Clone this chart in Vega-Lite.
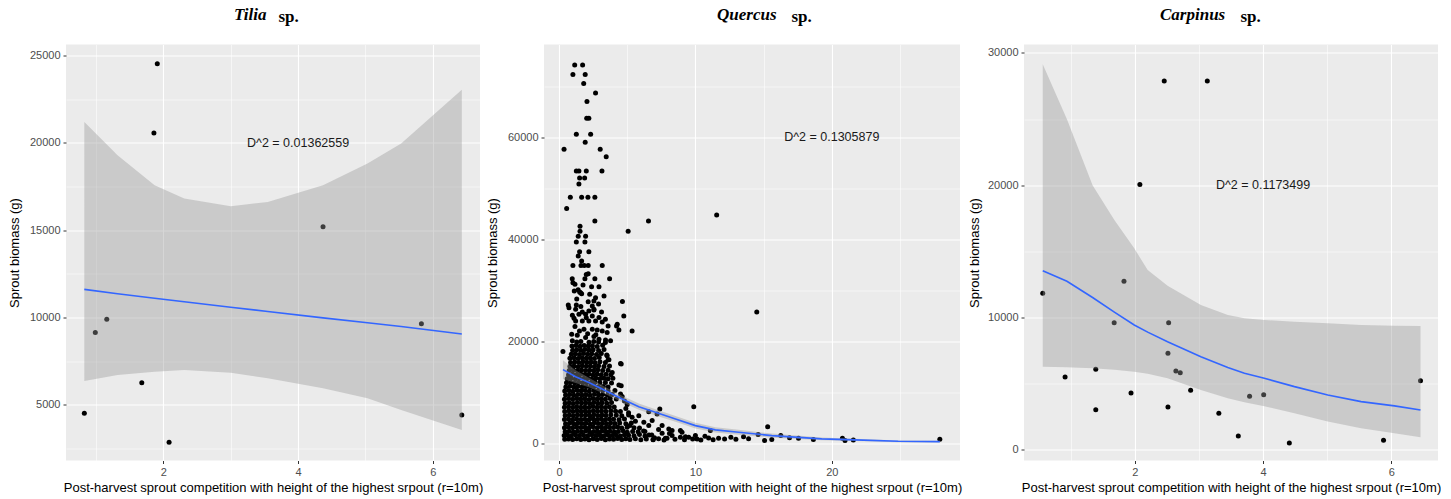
{
  "$schema": "https://vega.github.io/schema/vega-lite/v6.json",
  "padding": {"left": 8, "top": 5.5, "right": 0, "bottom": 0},
  "bounds": "flush",
  "spacing": 64,
  "config": {
    "view": {"fill": "#EBEBEB", "stroke": null},
    "axis": {"domain": false, "gridColor": "#FFFFFF", "tickColor": "#333333", "tickSize": 3, "labelColor": "#4D4D4D", "labelFont": "Liberation Sans", "labelFontSize": 11, "labelPadding": 3, "titleFont": "Liberation Sans", "titleFontSize": 13, "titleFontWeight": "normal", "titleColor": "#000000"},
    "title": {"font": "Liberation Serif", "fontSize": 17, "fontStyle": "italic", "fontWeight": "bold", "color": "#000000", "anchor": "start", "frame": "group", "offset": -16.6}
  },
  "datasets": {
    "tilia_pts": [
      {"x": 1.91, "y": 24540}, {"x": 1.86, "y": 20570}, {"x": 4.37, "y": 15190}, {"x": 0.827, "y": 4510},
      {"x": 0.99, "y": 9140}, {"x": 1.16, "y": 9890}, {"x": 1.68, "y": 6260}, {"x": 2.085, "y": 2850},
      {"x": 5.83, "y": 9640}, {"x": 6.43, "y": 4410}
    ],
    "tilia_fit": [
      {"x": 0.827, "fit": 11606, "lo": 6357, "hi": 21199},
      {"x": 1.32, "fit": 11360, "lo": 6700, "hi": 19293},
      {"x": 1.87, "fit": 11095, "lo": 6889, "hi": 17576},
      {"x": 2.31, "fit": 10895, "lo": 6986, "hi": 16814},
      {"x": 3.0, "fit": 10585, "lo": 6832, "hi": 16374},
      {"x": 3.55, "fit": 10340, "lo": 6511, "hi": 16620},
      {"x": 4.37, "fit": 9975, "lo": 5939, "hi": 17576},
      {"x": 5.03, "fit": 9690, "lo": 5366, "hi": 18817},
      {"x": 5.53, "fit": 9480, "lo": 4697, "hi": 19963},
      {"x": 6.43, "fit": 9047, "lo": 3552, "hi": 23054}
    ],
    "carpinus_pts": [
      {"x": 2.458, "y": 27890}, {"x": 3.13, "y": 27890}, {"x": 2.078, "y": 20050}, {"x": 0.5625, "y": 11835},
      {"x": 0.911, "y": 5514}, {"x": 1.39, "y": 6095}, {"x": 1.39, "y": 3044}, {"x": 1.677, "y": 9615},
      {"x": 1.83, "y": 12742}, {"x": 1.94, "y": 4305}, {"x": 2.516, "y": 7304}, {"x": 2.527, "y": 9615},
      {"x": 2.516, "y": 3248}, {"x": 2.64, "y": 5967}, {"x": 2.708, "y": 5838}, {"x": 2.87, "y": 4509},
      {"x": 3.31, "y": 2772}, {"x": 3.614, "y": 1057}, {"x": 3.79, "y": 4056}, {"x": 4.01, "y": 4177},
      {"x": 4.41, "y": 529}, {"x": 5.88, "y": 733}, {"x": 6.457, "y": 5234}
    ],
    "carpinus_fit": [
      {"x": 0.5625, "fit": 13543, "lo": 6294, "hi": 29155},
      {"x": 0.94, "fit": 12750, "lo": 6240, "hi": 25000},
      {"x": 1.34, "fit": 11520, "lo": 6170, "hi": 20000},
      {"x": 1.68, "fit": 10420, "lo": 6050, "hi": 17372},
      {"x": 1.99, "fit": 9441, "lo": 5916, "hi": 15234},
      {"x": 2.2, "fit": 8900, "lo": 5750, "hi": 13595},
      {"x": 2.51, "fit": 8180, "lo": 5413, "hi": 12400},
      {"x": 3.03, "fit": 7047, "lo": 4532, "hi": 10952},
      {"x": 3.45, "fit": 6220, "lo": 3900, "hi": 10197},
      {"x": 3.71, "fit": 5800, "lo": 3600, "hi": 9945},
      {"x": 4.02, "fit": 5413, "lo": 3300, "hi": 9820},
      {"x": 4.49, "fit": 4784, "lo": 2770, "hi": 9693},
      {"x": 5.01, "fit": 4154, "lo": 2140, "hi": 9570},
      {"x": 5.53, "fit": 3651, "lo": 1637, "hi": 9441},
      {"x": 6.05, "fit": 3330, "lo": 1259, "hi": 9390},
      {"x": 6.457, "fit": 3021, "lo": 957, "hi": 9366}
    ],
    "quercus_fit": [
      {"x": 0.29, "fit": 14450, "lo": 12600, "hi": 16300},
      {"x": 1.22, "fit": 13040, "lo": 11800, "hi": 14300},
      {"x": 2.19, "fit": 11926, "lo": 11000, "hi": 12850},
      {"x": 3.42, "fit": 10300, "lo": 9600, "hi": 11000},
      {"x": 4.63, "fit": 8680, "lo": 8050, "hi": 9300},
      {"x": 5.85, "fit": 7175, "lo": 6550, "hi": 7800},
      {"x": 7.07, "fit": 6060, "lo": 5450, "hi": 6650},
      {"x": 8.54, "fit": 4770, "lo": 4200, "hi": 5350},
      {"x": 10.0, "fit": 3460, "lo": 2900, "hi": 4000},
      {"x": 11.46, "fit": 2620, "lo": 2100, "hi": 3150},
      {"x": 13.17, "fit": 2150, "lo": 1650, "hi": 2650},
      {"x": 15.6, "fit": 1505, "lo": 1100, "hi": 1900},
      {"x": 19.26, "fit": 860, "lo": 600, "hi": 1120},
      {"x": 21.7, "fit": 665, "lo": 450, "hi": 880},
      {"x": 24.87, "fit": 391, "lo": 220, "hi": 560},
      {"x": 27.92, "fit": 330, "lo": 150, "hi": 500}
    ],
    "quercus_pts": [
      {"x":1.15,"y":74170},{"x":1.73,"y":74170},{"x":1.02,"y":72335},{"x":1.92,"y":72335},{"x":1.81,"y":70575},{"x":2.68,"y":68700},{"x":2.05,"y":67000},{"x":2.03,"y":63730},{"x":2.19,"y":63730},{"x":1.27,"y":60600},{"x":2.32,"y":60600},{"x":1.92,"y":59040},{"x":0.37,"y":57670},{"x":3.02,"y":57670},{"x":3.46,"y":56190},{"x":1.27,"y":53370},{"x":1.46,"y":53370},{"x":2.0,"y":53370},{"x":3.15,"y":53370},{"x":1.51,"y":52000},{"x":1.88,"y":52000},{"x":1.46,"y":50830},{"x":0.83,"y":48230},{"x":1.66,"y":48230},{"x":2.12,"y":48230},{"x":2.63,"y":48230},{"x":0.56,"y":46020},{"x":2.63,"y":43600},{"x":6.56,"y":43600},{"x":1.54,"y":42560},{"x":1.54,"y":41580},{"x":5.07,"y":41580},{"x":11.56,"y":44770},
      {"x":1.41,"y":40600},{"x":1.95,"y":40600},{"x":1.27,"y":39490},{"x":1.9,"y":39490},{"x":1.51,"y":37540},{"x":2.19,"y":37540},{"x":1.41,"y":36700},{"x":1.66,"y":35720},{"x":1.02,"y":34880},{"x":1.61,"y":34880},{"x":1.85,"y":34880},{"x":2.14,"y":34880},{"x":3.17,"y":34880},{"x":2.14,"y":33240},{"x":2.0,"y":33120},{"x":0.97,"y":32260},{"x":1.9,"y":32260},{"x":2.63,"y":32260},{"x":3.71,"y":32260},{"x":1.02,"y":31480},{"x":1.17,"y":31160},{"x":1.76,"y":31030},{"x":2.39,"y":30700},{"x":2.93,"y":30700},{"x":1.12,"y":29850},{"x":1.51,"y":29660},{"x":1.66,"y":29330},{"x":2.25,"y":29210},{"x":2.68,"y":28540},{"x":2.56,"y":27900},{"x":2.14,"y":27760},{"x":4.65,"y":27800},{"x":0.68,"y":27120},{"x":1.27,"y":27120},{"x":2.44,"y":26920},{"x":2.56,"y":26270},{"x":1.58,"y":29500},{"x":1.4,"y":30100},{"x":1.3,"y":28300},{"x":2.9,"y":27300},{"x":3.3,"y":28900},
      {"x":0.73,"y":26590},{"x":1.22,"y":26270},{"x":1.71,"y":25750},{"x":2.19,"y":25940},{"x":2.56,"y":26140},{"x":3.12,"y":25750},{"x":0.98,"y":25100},{"x":1.46,"y":25290},{"x":1.95,"y":25290},{"x":2.44,"y":24960},{"x":2.93,"y":24640},{"x":1.22,"y":23990},{"x":1.71,"y":23990},{"x":2.19,"y":23990},{"x":2.68,"y":23990},{"x":3.17,"y":23790},{"x":4.27,"y":23340},{"x":4.75,"y":24960},{"x":4.39,"y":22230},{"x":5.36,"y":22030},{"x":1.17,"y":22880},{"x":1.83,"y":22360},{"x":2.44,"y":22360},{"x":2.8,"y":22230},{"x":3.17,"y":22030},{"x":3.53,"y":21700},{"x":0.93,"y":21380},{"x":1.34,"y":21190},{"x":1.95,"y":20730},{"x":2.56,"y":20920},{"x":2.93,"y":20410},{"x":3.41,"y":20270},{"x":3.78,"y":20080},{"x":0.98,"y":20080},{"x":4.22,"y":23010},{"x":1.5,"y":22000},{"x":2.1,"y":21500},{"x":2.7,"y":21300},{"x":1.1,"y":24500},{"x":3.4,"y":24300},{"x":2.0,"y":24600},{"x":1.6,"y":26800},{"x":3.6,"y":23000},
      {"x":0.6,"y":12650},{"x":0.9,"y":12760},{"x":1.2,"y":12620},{"x":1.5,"y":12780},{"x":1.8,"y":12680},{"x":2.1,"y":12730},{"x":2.4,"y":12600},{"x":2.7,"y":12800},{"x":3.0,"y":12660},{"x":3.3,"y":12740},{"x":3.6,"y":12630},{"x":3.95,"y":12770},
      {"x":0.7,"y":13450},{"x":1.0,"y":13560},{"x":1.3,"y":13420},{"x":1.6,"y":13580},{"x":1.9,"y":13480},{"x":2.2,"y":13530},{"x":2.5,"y":13400},{"x":2.8,"y":13600},{"x":3.1,"y":13460},{"x":3.45,"y":13540},{"x":3.8,"y":13430},
      {"x":0.75,"y":14250},{"x":1.05,"y":14360},{"x":1.35,"y":14220},{"x":1.65,"y":14380},{"x":1.95,"y":14280},{"x":2.25,"y":14330},{"x":2.55,"y":14200},{"x":2.85,"y":14400},{"x":3.2,"y":14260},{"x":3.6,"y":14340},
      {"x":0.8,"y":15050},{"x":1.1,"y":15160},{"x":1.4,"y":15020},{"x":1.7,"y":15180},{"x":2.0,"y":15080},{"x":2.3,"y":15130},{"x":2.6,"y":15000},{"x":2.9,"y":15200},{"x":3.3,"y":15060},{"x":3.7,"y":15140},
      {"x":0.85,"y":15850},{"x":1.15,"y":15960},{"x":1.45,"y":15820},{"x":1.75,"y":15980},{"x":2.05,"y":15880},{"x":2.35,"y":15930},{"x":2.65,"y":15800},{"x":3.0,"y":16000},{"x":3.4,"y":15860},
      {"x":0.8,"y":16650},{"x":1.1,"y":16760},{"x":1.4,"y":16620},{"x":1.7,"y":16780},{"x":2.0,"y":16680},{"x":2.3,"y":16730},{"x":2.6,"y":16600},{"x":2.95,"y":16800},{"x":3.6,"y":16400},
      {"x":0.9,"y":17450},{"x":1.2,"y":17560},{"x":1.5,"y":17420},{"x":1.8,"y":17580},{"x":2.1,"y":17480},{"x":2.4,"y":17530},{"x":2.75,"y":17400},{"x":3.1,"y":17600},{"x":3.5,"y":17300},
      {"x":1.0,"y":18250},{"x":1.3,"y":18360},{"x":1.6,"y":18220},{"x":1.9,"y":18380},{"x":2.2,"y":18280},{"x":2.5,"y":18330},{"x":2.9,"y":18200},{"x":3.3,"y":18400},
      {"x":0.95,"y":19050},{"x":1.25,"y":19160},{"x":1.55,"y":19020},{"x":1.85,"y":19180},{"x":2.15,"y":19080},{"x":2.45,"y":19130},{"x":2.8,"y":19000},{"x":3.2,"y":19200},
      {"x":1.3,"y":19850},{"x":1.6,"y":19960},{"x":2.2,"y":19820},{"x":2.55,"y":19980},{"x":2.9,"y":19880},{"x":3.4,"y":19750},
      {"x":0.42,"y":780},{"x":0.7,"y":850},{"x":1.0,"y":720},{"x":1.3,"y":900},{"x":1.6,"y":760},{"x":1.9,"y":830},{"x":2.2,"y":700},{"x":2.5,"y":880},{"x":2.8,"y":750},{"x":3.1,"y":920},{"x":3.4,"y":700},{"x":3.7,"y":860},{"x":4.0,"y":780},{"x":4.3,"y":950},{"x":4.6,"y":720},{"x":4.9,"y":880},{"x":5.2,"y":760},{"x":5.6,"y":900},{"x":6.0,"y":700},{"x":6.4,"y":850},{"x":6.9,"y":760},{"x":7.3,"y":880},
      {"x":0.38,"y":1500},{"x":0.6,"y":1620},{"x":0.9,"y":1480},{"x":1.2,"y":1650},{"x":1.5,"y":1530},{"x":1.8,"y":1580},{"x":2.1,"y":1450},{"x":2.4,"y":1680},{"x":2.7,"y":1520},{"x":3.0,"y":1600},{"x":3.3,"y":1470},{"x":3.6,"y":1640},{"x":3.9,"y":1510},{"x":4.2,"y":1590},{"x":4.5,"y":1440},{"x":4.8,"y":1660},{"x":5.1,"y":1550},{"x":5.5,"y":1480},{"x":5.9,"y":1700},{"x":6.3,"y":1420},{"x":6.8,"y":1600},
      {"x":0.45,"y":2250},{"x":0.75,"y":2380},{"x":1.05,"y":2200},{"x":1.35,"y":2350},{"x":1.65,"y":2280},{"x":1.95,"y":2400},{"x":2.25,"y":2220},{"x":2.55,"y":2330},{"x":2.85,"y":2260},{"x":3.15,"y":2420},{"x":3.45,"y":2240},{"x":3.75,"y":2360},{"x":4.05,"y":2200},{"x":4.35,"y":2310},{"x":4.7,"y":2450},{"x":5.0,"y":2180},{"x":5.4,"y":2330},{"x":5.8,"y":2250},{"x":6.2,"y":2400},
      {"x":0.4,"y":3050},{"x":0.7,"y":3150},{"x":1.0,"y":3020},{"x":1.3,"y":3200},{"x":1.6,"y":3080},{"x":1.9,"y":3130},{"x":2.2,"y":3000},{"x":2.5,"y":3220},{"x":2.8,"y":3060},{"x":3.1,"y":3170},{"x":3.4,"y":3020},{"x":3.7,"y":3140},{"x":4.0,"y":3080},{"x":4.3,"y":3210},{"x":4.6,"y":3000},{"x":5.0,"y":3120},{"x":5.5,"y":3050},
      {"x":0.48,"y":3850},{"x":0.78,"y":3950},{"x":1.08,"y":3820},{"x":1.38,"y":3980},{"x":1.68,"y":3870},{"x":1.98,"y":3930},{"x":2.28,"y":3800},{"x":2.58,"y":4000},{"x":2.88,"y":3860},{"x":3.18,"y":3940},{"x":3.48,"y":3830},{"x":3.78,"y":3960},{"x":4.1,"y":3880},{"x":4.45,"y":3990},{"x":4.9,"y":3820},{"x":5.3,"y":3950},
      {"x":0.4,"y":4650},{"x":0.7,"y":4760},{"x":1.0,"y":4620},{"x":1.3,"y":4780},{"x":1.6,"y":4680},{"x":1.9,"y":4730},{"x":2.2,"y":4600},{"x":2.5,"y":4800},{"x":2.8,"y":4660},{"x":3.1,"y":4740},{"x":3.4,"y":4630},{"x":3.7,"y":4770},{"x":4.0,"y":4690},{"x":4.4,"y":4610},{"x":4.8,"y":4750},
      {"x":0.45,"y":5450},{"x":0.75,"y":5560},{"x":1.05,"y":5420},{"x":1.35,"y":5580},{"x":1.65,"y":5480},{"x":1.95,"y":5530},{"x":2.25,"y":5400},{"x":2.55,"y":5600},{"x":2.85,"y":5460},{"x":3.15,"y":5540},{"x":3.45,"y":5430},{"x":3.8,"y":5570},{"x":4.2,"y":5490},{"x":4.6,"y":5410},{"x":5.1,"y":5560},
      {"x":0.42,"y":6250},{"x":0.72,"y":6360},{"x":1.02,"y":6220},{"x":1.32,"y":6380},{"x":1.62,"y":6280},{"x":1.92,"y":6330},{"x":2.22,"y":6200},{"x":2.52,"y":6400},{"x":2.82,"y":6260},{"x":3.12,"y":6340},{"x":3.45,"y":6230},{"x":3.8,"y":6370},{"x":4.15,"y":6290},{"x":4.5,"y":6210},
      {"x":0.4,"y":7050},{"x":0.7,"y":7160},{"x":1.0,"y":7020},{"x":1.3,"y":7180},{"x":1.6,"y":7080},{"x":1.9,"y":7130},{"x":2.2,"y":7000},{"x":2.5,"y":7200},{"x":2.8,"y":7060},{"x":3.1,"y":7140},{"x":3.4,"y":7030},{"x":3.7,"y":7170},{"x":4.05,"y":7090},
      {"x":0.45,"y":7850},{"x":0.75,"y":7960},{"x":1.05,"y":7820},{"x":1.35,"y":7980},{"x":1.65,"y":7880},{"x":1.95,"y":7930},{"x":2.25,"y":7800},{"x":2.55,"y":8000},{"x":2.85,"y":7860},{"x":3.15,"y":7940},{"x":3.5,"y":7830},{"x":3.85,"y":7970},
      {"x":0.4,"y":8650},{"x":0.7,"y":8760},{"x":1.0,"y":8620},{"x":1.3,"y":8780},{"x":1.6,"y":8680},{"x":1.9,"y":8730},{"x":2.2,"y":8600},{"x":2.5,"y":8800},{"x":2.8,"y":8660},{"x":3.1,"y":8740},{"x":3.4,"y":8630},{"x":3.75,"y":8770},{"x":4.2,"y":8690},
      {"x":0.48,"y":9450},{"x":0.78,"y":9560},{"x":1.08,"y":9420},{"x":1.38,"y":9580},{"x":1.68,"y":9480},{"x":1.98,"y":9530},{"x":2.28,"y":9400},{"x":2.6,"y":9600},{"x":2.9,"y":9460},{"x":3.2,"y":9540},{"x":3.55,"y":9430},{"x":3.9,"y":9570},
      {"x":0.42,"y":10250},{"x":0.72,"y":10360},{"x":1.02,"y":10220},{"x":1.32,"y":10380},{"x":1.62,"y":10280},{"x":1.92,"y":10330},{"x":2.22,"y":10200},{"x":2.55,"y":10400},{"x":2.85,"y":10260},{"x":3.2,"y":10340},{"x":3.6,"y":10230},{"x":4.1,"y":10370},
      {"x":0.5,"y":11050},{"x":0.8,"y":11160},{"x":1.1,"y":11020},{"x":1.4,"y":11180},{"x":1.7,"y":11080},{"x":2.0,"y":11130},{"x":2.3,"y":11000},{"x":2.6,"y":11200},{"x":2.9,"y":11060},{"x":3.25,"y":11140},{"x":3.6,"y":11030},
      {"x":0.55,"y":11850},{"x":0.85,"y":11960},{"x":1.15,"y":11820},{"x":1.45,"y":11980},{"x":1.75,"y":11880},{"x":2.05,"y":11930},{"x":2.35,"y":11800},{"x":2.65,"y":12000},{"x":3.0,"y":11860},{"x":3.4,"y":11940},{"x":3.85,"y":11830},
      {"x":14.5,"y":25750},{"x":9.88,"y":7180},{"x":15.3,"y":3260},{"x":14.6,"y":1700},{"x":15.07,"y":530},{"x":15.6,"y":720},{"x":16.26,"y":1500},{"x":17.56,"y":980},{"x":18.65,"y":720},{"x":20.78,"y":980},{"x":20.97,"y":530},{"x":21.58,"y":660},{"x":27.92,"y":790},{"x":12.97,"y":790},{"x":13.53,"y":1300},{"x":12.14,"y":860},{"x":11.7,"y":980},{"x":11.1,"y":2480},{"x":10.97,"y":1050},{"x":10.12,"y":860},{"x":9.8,"y":860},{"x":9.27,"y":1300},{"x":8.9,"y":2480},{"x":8.29,"y":2480},{"x":7.56,"y":1960},{"x":7.92,"y":980},{"x":7.39,"y":6720},{"x":7.19,"y":5740},{"x":6.58,"y":6200},{"x":6.83,"y":4440},{"x":4.56,"y":15520},{"x":4.56,"y":11280},{"x":4.63,"y":9190},{"x":0.29,"y":17990},{"x":4.39,"y":11410},{"x":4.51,"y":9650},{"x":5.36,"y":5080},{"x":5.85,"y":5410},{"x":6.22,"y":4110},{"x":6.58,"y":3460},{"x":7.56,"y":3460},{"x":8.05,"y":2800},{"x":9.02,"y":2150},{"x":8.29,"y":1500},{"x":8.9,"y":1170},{"x":9.51,"y":1170},{"x":10.0,"y":1500},{"x":7.8,"y":990},{"x":4.9,"y":6800},{"x":5.1,"y":6000},{"x":5.6,"y":4300},{"x":5.9,"y":3000},{"x":6.3,"y":2300},{"x":6.6,"y":1600},{"x":7.0,"y":1100},{"x":7.3,"y":2700},{"x":5.0,"y":7600},{"x":4.8,"y":8300},{"x":5.2,"y":3500},{"x":6.9,"y":700},{"x":7.7,"y":650},{"x":8.5,"y":800},{"x":9.2,"y":700},{"x":10.4,"y":650},{"x":10.7,"y":1400},{"x":11.3,"y":700},{"x":12.6,"y":1200},{"x":13.9,"y":900},{"x":16.9,"y":1100},{"x":8.1,"y":1900},{"x":4.51,"y":15650},{"x":3.66,"y":16360},{"x":3.9,"y":13900},{"x":3.53,"y":17150}
    ]
  },
  "hconcat": [
    {
      "width": 414, "height": 416,
      "title": {"text": "Tilia", "dx": 168},
      "resolve": {"axis": {"x": "independent"}},
      "layer": [
        {
          "data": {"name": "tilia_pts"},
          "mark": {"type": "point", "filled": true, "color": "#000000", "size": 25, "opacity": 1},
          "encoding": {
            "x": {"field": "x", "type": "quantitative", "scale": {"domain": [0.555, 6.7], "nice": false, "zero": false},
              "axis": {"title": "Post-harvest sprout competition with height of the highest srpout (r=10m)", "format": "d", "values": [1, 2, 3, 4, 5, 6], "labelExpr": "datum.value % 2 === 0 ? datum.label : ''", "gridWidth": {"condition": {"test": "datum.value % 2 !== 0", "value": 0.55}, "value": 1.1}, "tickOpacity": {"condition": {"test": "datum.value % 2 !== 0", "value": 0}, "value": 1}}},
            "y": {"field": "y", "type": "quantitative", "scale": {"domain": [1800, 25640], "nice": false, "zero": false},
              "axis": {"title": "Sprout biomass (g)", "titlePadding": 8, "format": "d", "values": [2500, 5000, 7500, 10000, 12500, 15000, 17500, 20000, 22500, 25000], "labelExpr": "datum.value % 5000 === 0 ? datum.label : ''", "gridWidth": {"condition": {"test": "datum.value % 5000 !== 0", "value": 0.55}, "value": 1.1}, "tickOpacity": {"condition": {"test": "datum.value % 5000 !== 0", "value": 0}, "value": 1}}}
          }
        },
        {
          "data": {"name": "tilia_fit"},
          "mark": {"type": "area", "fill": "#999999", "opacity": 0.4},
          "encoding": {
            "x": {"field": "x", "type": "quantitative", "scale": {"domain": [0.555, 6.7], "nice": false, "zero": false}, "axis": null},
            "y": {"field": "lo", "type": "quantitative", "scale": {"domain": [1800, 25640], "nice": false, "zero": false}},
            "y2": {"field": "hi"}
          }
        },
        {
          "data": {"name": "tilia_fit"},
          "mark": {"type": "line", "color": "#3366FF", "strokeWidth": 1.6},
          "encoding": {
            "x": {"field": "x", "type": "quantitative", "scale": {"domain": [0.555, 6.7], "nice": false, "zero": false}, "axis": null},
            "y": {"field": "fit", "type": "quantitative", "scale": {"domain": [1800, 25640], "nice": false, "zero": false}}
          }
        },
        {
          "data": {"values": [{"x": 4, "y": 20000, "label": "D^2 = 0.01362559"}]},
          "mark": {"type": "text", "font": "Liberation Sans", "fontSize": 12.5, "color": "#1A1A1A"},
          "encoding": {
            "x": {"field": "x", "type": "quantitative", "scale": {"domain": [0.555, 6.7], "nice": false, "zero": false},
              "axis": {"orient": "top", "title": "sp.", "labels": false, "ticks": false, "domain": false, "grid": false, "titleFont": "Liberation Serif", "titleFontSize": 17, "titleFontWeight": "bold", "titleFontStyle": "normal", "titleColor": "#000000", "titleAnchor": "start", "titleAlign": "left", "titleBaseline": "alphabetic", "titleX": 212, "titleY": -23}},
            "y": {"field": "y", "type": "quantitative", "scale": {"domain": [1800, 25640], "nice": false, "zero": false}},
            "text": {"field": "label"}
          }
        }
      ]
    },
    {
      "width": 416, "height": 416,
      "title": {"text": "Quercus", "dx": 173},
      "resolve": {"axis": {"x": "independent"}},
      "layer": [
        {
          "data": {"name": "quercus_pts"},
          "mark": {"type": "point", "filled": true, "color": "#000000", "size": 25, "opacity": 1},
          "encoding": {
            "x": {"field": "x", "type": "quantitative", "scale": {"domain": [-1.1, 29.4], "nice": false, "zero": false},
              "axis": {"title": "Post-harvest sprout competition with height of the highest srpout (r=10m)", "format": "d", "values": [0, 5, 10, 15, 20, 25], "labelExpr": "datum.value % 10 === 0 ? datum.label : ''", "gridWidth": {"condition": {"test": "datum.value % 10 !== 0", "value": 0.55}, "value": 1.1}, "tickOpacity": {"condition": {"test": "datum.value % 10 !== 0", "value": 0}, "value": 1}}},
            "y": {"field": "y", "type": "quantitative", "scale": {"domain": [-3380, 78200], "nice": false, "zero": false},
              "axis": {"title": "Sprout biomass (g)", "titlePadding": 8, "format": "d", "values": [0, 10000, 20000, 30000, 40000, 50000, 60000, 70000], "labelExpr": "datum.value % 20000 === 0 ? datum.label : ''", "gridWidth": {"condition": {"test": "datum.value % 20000 !== 0", "value": 0.55}, "value": 1.1}, "tickOpacity": {"condition": {"test": "datum.value % 20000 !== 0", "value": 0}, "value": 1}}}
          }
        },
        {
          "data": {"name": "quercus_fit"},
          "mark": {"type": "area", "fill": "#999999", "opacity": 0.4},
          "encoding": {
            "x": {"field": "x", "type": "quantitative", "scale": {"domain": [-1.1, 29.4], "nice": false, "zero": false}, "axis": null},
            "y": {"field": "lo", "type": "quantitative", "scale": {"domain": [-3380, 78200], "nice": false, "zero": false}},
            "y2": {"field": "hi"}
          }
        },
        {
          "data": {"name": "quercus_fit"},
          "mark": {"type": "line", "color": "#3366FF", "strokeWidth": 1.6},
          "encoding": {
            "x": {"field": "x", "type": "quantitative", "scale": {"domain": [-1.1, 29.4], "nice": false, "zero": false}, "axis": null},
            "y": {"field": "fit", "type": "quantitative", "scale": {"domain": [-3380, 78200], "nice": false, "zero": false}}
          }
        },
        {
          "data": {"values": [{"x": 20, "y": 60000, "label": "D^2 = 0.1305879"}]},
          "mark": {"type": "text", "font": "Liberation Sans", "fontSize": 12.5, "color": "#1A1A1A"},
          "encoding": {
            "x": {"field": "x", "type": "quantitative", "scale": {"domain": [-1.1, 29.4], "nice": false, "zero": false},
              "axis": {"orient": "top", "title": "sp.", "labels": false, "ticks": false, "domain": false, "grid": false, "titleFont": "Liberation Serif", "titleFontSize": 17, "titleFontWeight": "bold", "titleFontStyle": "normal", "titleColor": "#000000", "titleAnchor": "start", "titleAlign": "left", "titleBaseline": "alphabetic", "titleX": 247, "titleY": -23}},
            "y": {"field": "y", "type": "quantitative", "scale": {"domain": [-3380, 78200], "nice": false, "zero": false}},
            "text": {"field": "label"}
          }
        }
      ]
    },
    {
      "width": 414, "height": 416,
      "title": {"text": "Carpinus", "dx": 136},
      "resolve": {"axis": {"x": "independent"}},
      "layer": [
        {
          "data": {"name": "carpinus_pts"},
          "mark": {"type": "point", "filled": true, "color": "#000000", "size": 25, "opacity": 1},
          "encoding": {
            "x": {"field": "x", "type": "quantitative", "scale": {"domain": [0.27, 6.73], "nice": false, "zero": false},
              "axis": {"title": "Post-harvest sprout competition with height of the highest srpout (r=10m)", "format": "d", "values": [1, 2, 3, 4, 5, 6], "labelExpr": "datum.value % 2 === 0 ? datum.label : ''", "gridWidth": {"condition": {"test": "datum.value % 2 !== 0", "value": 0.55}, "value": 1.1}, "tickOpacity": {"condition": {"test": "datum.value % 2 !== 0", "value": 0}, "value": 1}}},
            "y": {"field": "y", "type": "quantitative", "scale": {"domain": [-800, 30640], "nice": false, "zero": false},
              "axis": {"title": "Sprout biomass (g)", "titlePadding": 6, "format": "d", "values": [0, 5000, 10000, 15000, 20000, 25000, 30000], "labelExpr": "datum.value % 10000 === 0 ? datum.label : ''", "gridWidth": {"condition": {"test": "datum.value % 10000 !== 0", "value": 0.55}, "value": 1.1}, "tickOpacity": {"condition": {"test": "datum.value % 10000 !== 0", "value": 0}, "value": 1}}}
          }
        },
        {
          "data": {"name": "carpinus_fit"},
          "mark": {"type": "area", "fill": "#999999", "opacity": 0.4},
          "encoding": {
            "x": {"field": "x", "type": "quantitative", "scale": {"domain": [0.27, 6.73], "nice": false, "zero": false}, "axis": null},
            "y": {"field": "lo", "type": "quantitative", "scale": {"domain": [-800, 30640], "nice": false, "zero": false}},
            "y2": {"field": "hi"}
          }
        },
        {
          "data": {"name": "carpinus_fit"},
          "mark": {"type": "line", "color": "#3366FF", "strokeWidth": 1.6},
          "encoding": {
            "x": {"field": "x", "type": "quantitative", "scale": {"domain": [0.27, 6.73], "nice": false, "zero": false}, "axis": null},
            "y": {"field": "fit", "type": "quantitative", "scale": {"domain": [-800, 30640], "nice": false, "zero": false}}
          }
        },
        {
          "data": {"values": [{"x": 4, "y": 20000, "label": "D^2 = 0.1173499"}]},
          "mark": {"type": "text", "font": "Liberation Sans", "fontSize": 12.5, "color": "#1A1A1A"},
          "encoding": {
            "x": {"field": "x", "type": "quantitative", "scale": {"domain": [0.27, 6.73], "nice": false, "zero": false},
              "axis": {"orient": "top", "title": "sp.", "labels": false, "ticks": false, "domain": false, "grid": false, "titleFont": "Liberation Serif", "titleFontSize": 17, "titleFontWeight": "bold", "titleFontStyle": "normal", "titleColor": "#000000", "titleAnchor": "start", "titleAlign": "left", "titleBaseline": "alphabetic", "titleX": 216, "titleY": -23}},
            "y": {"field": "y", "type": "quantitative", "scale": {"domain": [-800, 30640], "nice": false, "zero": false}},
            "text": {"field": "label"}
          }
        }
      ]
    }
  ]
}
